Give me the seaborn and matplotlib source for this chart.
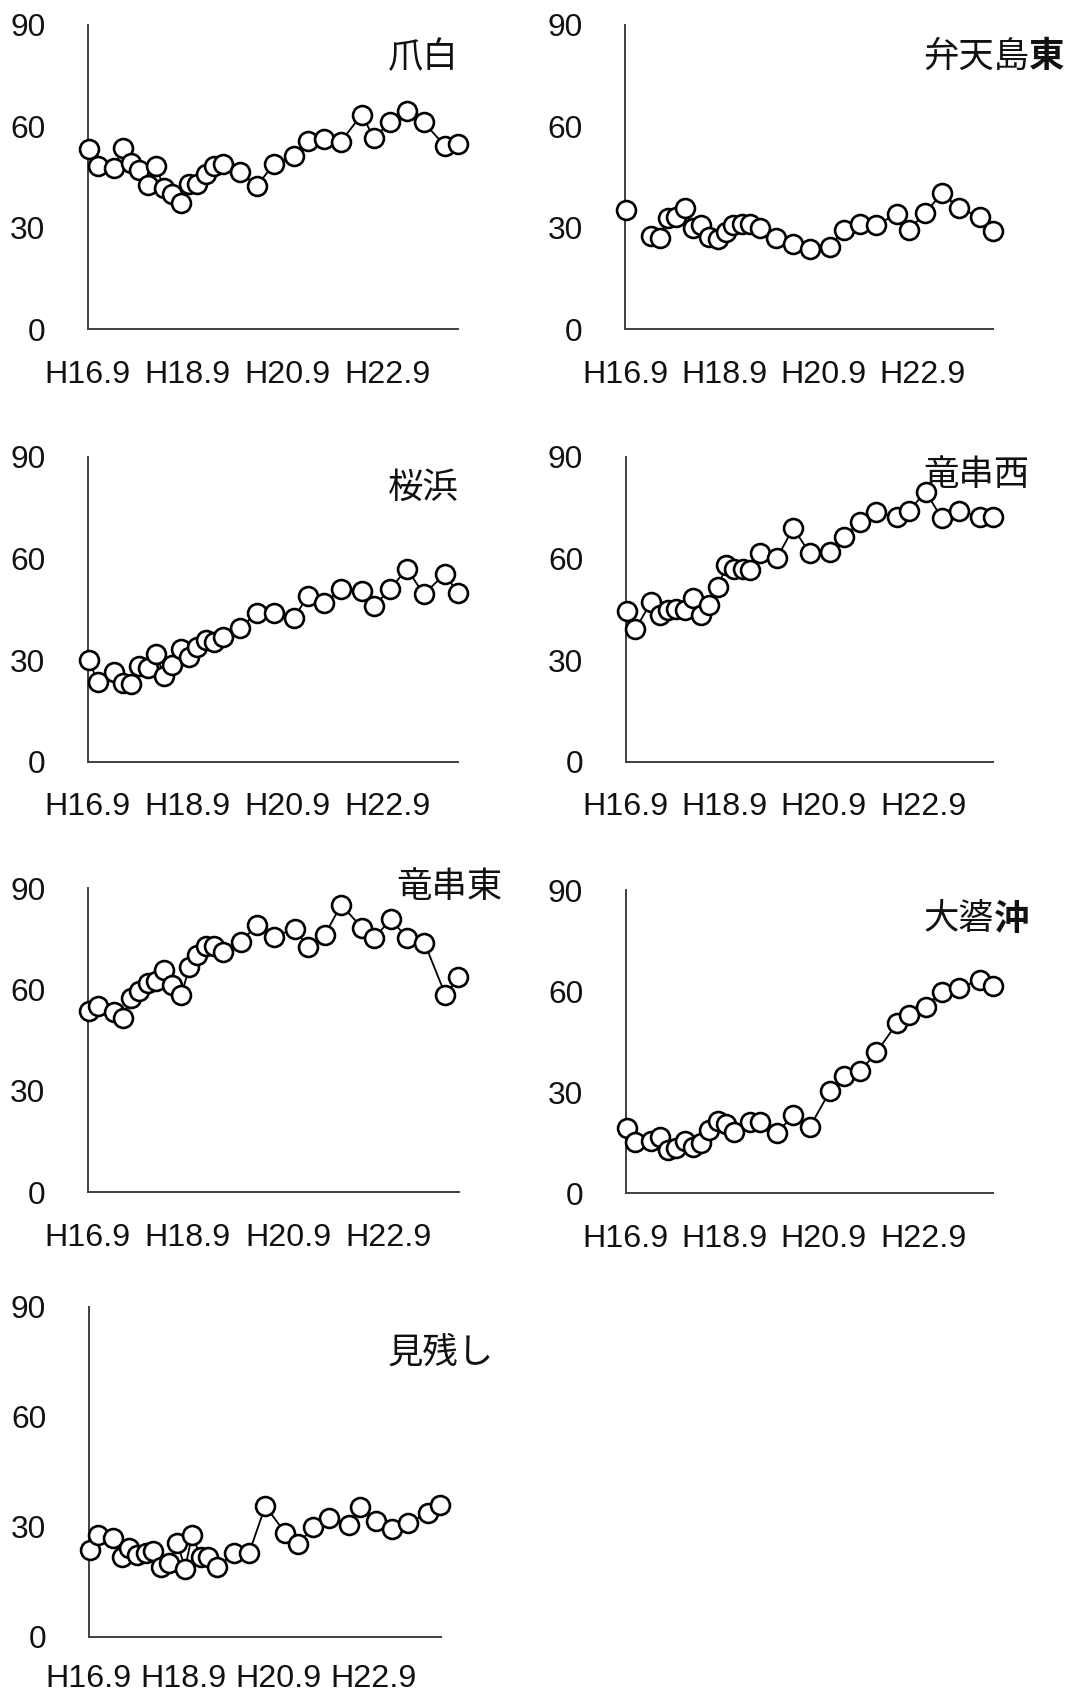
import numpy as np
import pandas as pd
import matplotlib
matplotlib.use("Agg")
import matplotlib.pyplot as plt
import seaborn as sns

# ---------------- data ----------------
# survey timing, in years after H16.9
survey_t = [0.03, 0.20, 0.52, 0.70, 0.86, 1.02, 1.20, 1.36, 1.53, 1.69,
            1.87, 2.03, 2.18, 2.36, 2.52, 2.71, 3.05, 3.38, 3.72, 4.13,
            4.40, 4.73, 5.06, 5.48, 5.72, 6.05, 6.38, 6.72, 7.14, 7.40]

tsumeshiro = [53.3, 48.3, 47.6, 53.5, 49.2, 47.1, 42.6, 48.3, 41.7, 40.0,
              37.4, 42.9, 43.1, 45.8, 48.3, 48.8, 46.5, 42.4, 48.8, 51.3,
              55.7, 56.2, 55.5, 63.5, 56.6, 61.2, 64.6, 61.2, 54.3, 54.8]
bentenjima_higashi = [35.2, np.nan, 27.6, 27.0, 32.8, 33.1, 36.0, 30.1, 30.8, 27.3,
                      26.8, 28.8, 30.8, 31.1, 31.1, 30.1, 27.0, 25.2, 23.7, 24.4,
                      29.5, 31.1, 30.8, 34.2, 29.5, 34.5, 40.2, 36.0, 33.1, 29.0]
sakurahama = [30.0, 23.4, 26.4, 23.1, 22.8, 28.3, 27.7, 31.8, 25.4, 28.5,
              33.4, 31.0, 33.9, 35.9, 35.4, 36.9, 39.5, 43.8, 43.8, 42.5,
              49.0, 46.7, 50.9, 50.4, 45.9, 50.9, 57.0, 49.4, 55.4, 49.9]
tatsukushi_nishi = [44.6, 39.1, 47.2, 43.3, 44.9, 45.0, 44.8, 48.2, 43.3, 46.2,
                    51.6, 58.0, 56.8, 56.8, 56.6, 61.5, 60.0, 68.9, 61.5, 62.0,
                    66.4, 70.6, 73.8, 72.3, 74.0, 79.7, 71.8, 74.1, 72.1, 72.1]
tatsukushi_higashi = [53.8, 55.2, 53.5, 51.5, 57.5, 59.7, 61.9, 62.6, 65.8, 61.4,
                      58.4, 66.8, 70.3, 72.8, 73.0, 71.1, 74.2, 79.0, 75.7, 78.0,
                      72.5, 76.2, 85.1, 78.2, 75.4, 80.8, 75.2, 73.9, 58.4, 63.7]
oobaeoki = [19.5, 15.3, 15.5, 16.6, 12.9, 13.4, 15.6, 13.6, 14.8, 18.8,
            21.6, 20.5, 18.3, np.nan, 21.1, 21.3, 17.8, 23.2, 19.8, 30.5,
            34.8, 36.2, 41.8, 50.6, 52.9, 55.4, 59.6, 60.8, 63.3, 61.5]
minokoshi = [23.6, 27.7, 26.8, 21.8, 24.1, 22.3, 22.7, 23.5, 18.9, 20.2,
             25.6, 18.6, 27.7, 21.8, 21.8, 19.1, 22.7, 22.9, 35.7, 28.4,
             25.3, 29.8, 32.3, 30.5, 35.5, 31.5, 29.3, 30.9, 33.8, 35.9]

series = [tsumeshiro, bentenjima_higashi, sakurahama, tatsukushi_nishi,
          tatsukushi_higashi, oobaeoki, minokoshi]
titles = [("爪白", ""), ("弁天島", "東"), ("桜浜", ""), ("竜串西", ""),
          ("竜串東", ""), ("大碆", "沖"), ("見残し", "")]

x_ticks = [0, 2, 4, 6]
x_tick_labels = ["H16.9", "H18.9", "H20.9", "H22.9"]
y_ticks = [0, 30, 60, 90]

# ---------------- layout ----------------
W, H = 1078, 1700
# axes rectangles in pixels: left, top, right, bottom
rects_px = [
    (87.7, 25.0, 458.3, 329.3),
    (625.0, 25.0, 993.0, 329.3),
    (87.7, 456.7, 458.3, 761.7),
    (625.5, 456.7, 993.0, 761.7),
    (87.7, 888.3, 459.0, 1192.3),
    (625.5, 890.0, 993.0, 1193.3),
    (88.5, 1306.7, 440.8, 1636.7),
]
title_pos = [(0.81, 0.895), (0.81, 0.895), (0.81, 0.897), (0.81, 0.94),
             (0.83, 1.004), (0.81, 0.904), (0.85, 0.86)]
x_pads = [22, 22, 22, 22, 22, 22, 20]

sns.set_theme(style="white")
plt.rcParams["font.family"] = ["Liberation Sans", "Noto Sans CJK JP", "DejaVu Sans"]

fig = plt.figure(figsize=(W / 100, H / 100), dpi=100)
fig.patch.set_facecolor("white")

spine_col = "#404040"
for i, vals in enumerate(series):
    l, t, r, b = rects_px[i]
    ax = fig.add_axes([l / W, 1 - b / H, (r - l) / W, (b - t) / H])
    df = pd.DataFrame({"t": survey_t, "v": vals})
    df["seg"] = df["v"].isna().cumsum()
    df = df.dropna()
    sns.lineplot(data=df, x="t", y="v", units="seg", estimator=None, sort=False,
                 color="black", lw=1.3, ax=ax, legend=False, zorder=2)
    sns.scatterplot(data=df, x="t", y="v", s=185, color="white",
                    edgecolor="black", linewidth=1.9, ax=ax, legend=False,
                    clip_on=False, zorder=3)
    ax.set_xlim(0, 7.41)
    ax.set_ylim(0, 90)
    ax.set_xticks(x_ticks)
    ax.set_xticklabels(x_tick_labels)
    ax.set_yticks(y_ticks)
    ax.set_xlabel("")
    ax.set_ylabel("")
    for s in ["top", "right"]:
        ax.spines[s].set_visible(False)
    for s in ["left", "bottom"]:
        ax.spines[s].set_color(spine_col)
        ax.spines[s].set_linewidth(1.4)
    ax.tick_params(axis="both", direction="in", length=6.5, width=1.0,
                   color=spine_col, labelcolor="#111111")
    ax.tick_params(axis="x", pad=x_pads[i], labelsize=23.2)
    ax.tick_params(axis="y", pad=30.5, labelsize=22.8)
    ax.set_facecolor("white")

    name, bold = titles[i]
    tx, ty = title_pos[i]
    txt = ax.text(tx, ty, name, transform=ax.transAxes, fontsize=25.5,
                  family=["Noto Sans CJK JP"], ha="left", va="center",
                  color="#111111")
    if bold:
        ax.annotate(bold, xy=(1, 0.5), xycoords=txt, ha="left", va="center",
                    fontsize=25.5, fontweight="bold", family=["Noto Sans CJK JP"],
                    color="#111111", annotation_clip=False)

fig.savefig("out.png", dpi=100, facecolor="white")
